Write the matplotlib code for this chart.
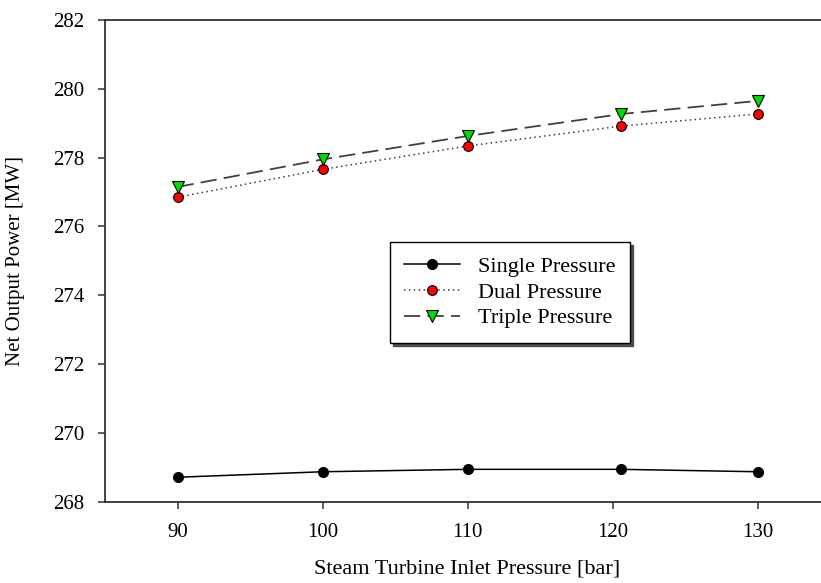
import matplotlib
matplotlib.use("Agg")
import matplotlib.pyplot as plt

# steam turbine inlet pressure [bar]
pressure = [90, 100, 110, 120.6, 130]

# net output power [MW] for each HRSG configuration
single_power = [268.71, 268.87, 268.94, 268.94, 268.87]
dual_power = [276.85, 277.66, 278.34, 278.92, 279.27]
triple_power = [277.15, 277.95, 278.63, 279.27, 279.65]

x_ticks = [90, 100, 110, 120, 130]
y_ticks = [268, 270, 272, 274, 276, 278, 280, 282]

plt.rcParams['font.family'] = ['Liberation Serif', 'DejaVu Serif']

fig = plt.figure(figsize=(8.21, 5.83), dpi=100)
ax = fig.add_axes([0.128, 0.1395, 0.883, 0.826])

ax.plot(pressure, single_power, color='black', linestyle='-', linewidth=1.1,
        marker='o', markersize=7, markerfacecolor='black', markeredgecolor='black',
        label='Single Pressure')
ax.plot(pressure, dual_power, color='0.25', linestyle=(0, (1, 2.2)), linewidth=1.1,
        marker='o', markersize=7, markerfacecolor='red', markeredgecolor='black',
        markeredgewidth=0.8, label='Dual Pressure')
ax.plot(pressure, triple_power, color='0.25', linestyle=(0, (9, 4)), linewidth=1.3,
        marker='v', markersize=8, markerfacecolor='#00dd00', markeredgecolor='black',
        markeredgewidth=0.8, label='Triple Pressure')

ax.set_xlim(85, 135)
ax.set_ylim(268, 282)
ax.set_xticks(x_ticks)
ax.set_yticks(y_ticks)
ax.tick_params(axis='both', direction='out', length=5, width=1.1, color='0.2',
               labelsize=15, pad=10)

ax.spines['right'].set_visible(False)
for side in ['left', 'bottom', 'top']:
    ax.spines[side].set_linewidth(1.3)
    ax.spines[side].set_color('0.2')

ax.set_xlabel('Steam Turbine Inlet Pressure [bar]', fontsize=16, labelpad=13)
ax.set_ylabel('Net Output Power [MW]', fontsize=15, labelpad=20)

leg = ax.legend(loc='upper left', bbox_to_anchor=(390 / 821, 1 - 242 / 583),
                bbox_transform=fig.transFigure, borderaxespad=0, fancybox=False,
                shadow={'color': '0.3', 'alpha': 1}, fontsize=16, handlelength=2.5,
                labelspacing=0.23, borderpad=0.65, handletextpad=0.8)
leg.get_frame().set_edgecolor('black')
leg.get_frame().set_linewidth(1.0)

fig.savefig('out.png', dpi=100)
